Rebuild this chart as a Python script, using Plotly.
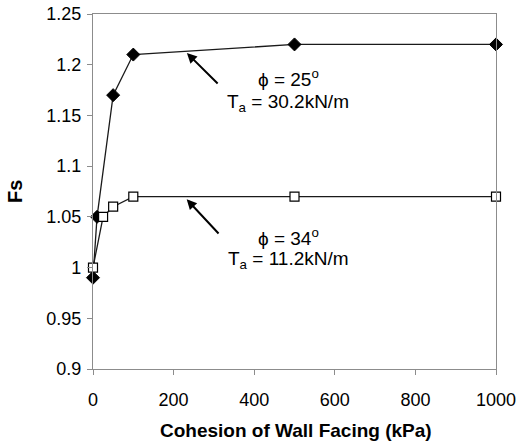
import plotly.graph_objects as go

cohesion_25 = [0, 10, 50, 100, 500, 1000]
fs_25 = [0.99, 1.05, 1.17, 1.21, 1.22, 1.22]
cohesion_34 = [0, 25, 50, 100, 500, 1000]
fs_34 = [1.00, 1.05, 1.06, 1.07, 1.07, 1.07]
y_ticks = [0.9, 0.95, 1, 1.05, 1.1, 1.15, 1.2, 1.25]
y_tick_text = ["0.9", "0.95", "1", "1.05", "1.1", "1.15", "1.2", "1.25"]
x_ticks = [0, 200, 400, 600, 800, 1000]

FONT = "Liberation Sans, Arial, sans-serif"

fig = go.Figure()
fig.add_trace(go.Scatter(
    x=cohesion_25, y=fs_25, mode="lines+markers",
    line=dict(color="#1a1a1a", width=1.3),
    marker=dict(symbol="diamond", size=10, color="black",
                line=dict(color="black", width=1)),
    showlegend=False, cliponaxis=False))
fig.add_trace(go.Scatter(
    x=cohesion_34, y=fs_34, mode="lines+markers",
    line=dict(color="#1a1a1a", width=1.3),
    marker=dict(symbol="square", size=9, color="white",
                line=dict(color="black", width=1.2)),
    showlegend=False, cliponaxis=False))

axis_common = dict(showgrid=False, zeroline=False, showline=True,
                   linecolor="#8c8c8c", linewidth=1.3, mirror=True,
                   ticks="outside", ticklen=5, tickcolor="#8c8c8c",
                   automargin=False,
                   tickfont=dict(family=FONT, size=18, color="black"))

fig.update_xaxes(range=[0, 1000], tickvals=x_ticks, ticklabelstandoff=9,
                 **axis_common)
fig.update_yaxes(range=[0.9, 1.25], tickvals=y_ticks, ticktext=y_tick_text,
                 ticklabelstandoff=2,
                 **axis_common)

# axis titles (positions given in pixels, converted below)
fig.add_annotation(x=296, y=430, xref="paper", yref="paper",
                   xanchor="center", yanchor="middle",
                   text="<b>Cohesion of Wall Facing (kPa)</b>", showarrow=False,
                   font=dict(family=FONT, size=19, color="black"))
fig.add_annotation(x=15, y=192, xref="paper", yref="paper",
                   xanchor="center", yanchor="middle",
                   text="<b>Fs</b>", showarrow=False, textangle=-90,
                   font=dict(family=FONT, size=20, color="black"))

# arrows
fig.add_annotation(x=233, y=1.2115, ax=313, ay=1.18, xref="x", yref="y",
                   axref="x", ayref="y", text="", showarrow=True,
                   arrowhead=2, arrowsize=1, arrowwidth=2, arrowcolor="black")
fig.add_annotation(x=232.5, y=1.0673, ax=315, ay=1.0321, xref="x", yref="y",
                   axref="x", ayref="y", text="", showarrow=True,
                   arrowhead=2, arrowsize=1, arrowwidth=2, arrowcolor="black")

labels = [
    (484, 1.1869, "ϕ = 25<sup>o</sup>"),
    (484, 1.1623, "T<sub>a</sub> = 30.2kN/m"),
    (484, 1.0302, "ϕ = 34<sup>o</sup>"),
    (484, 1.0075, "T<sub>a</sub> = 11.2kN/m"),
]
for lx, ly, txt in labels:
    fig.add_annotation(x=lx, y=ly, xref="x", yref="y", text=txt,
                       showarrow=False,
                       font=dict(family=FONT, size=19, color="black"))

fig.update_layout(width=517, height=443,
                  margin=dict(l=93, r=21, t=14, b=74),
                  paper_bgcolor="white", plot_bgcolor="white")

W, H = 517, 443
pw, ph = W - 93 - 21, H - 14 - 74
for ann in fig.layout.annotations:
    if ann.xref == "paper":
        ann.x = (ann.x - 93) / pw
        ann.y = 1 - (ann.y - 14) / ph

fig.write_html("out.html")
